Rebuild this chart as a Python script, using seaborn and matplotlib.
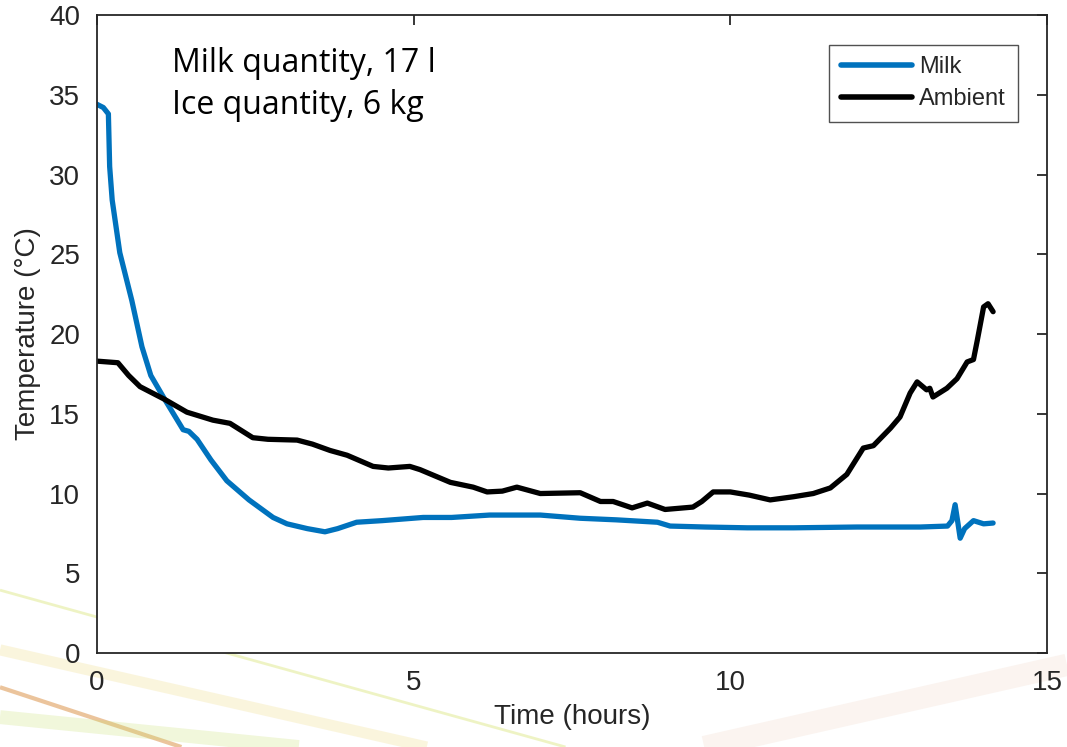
import numpy as np
import pandas as pd
import matplotlib
matplotlib.use("Agg")
import matplotlib.pyplot as plt
import seaborn as sns

# 数据
milk_t = [0.0, 0.1, 0.18, 0.2, 0.24, 0.36, 0.55, 0.71, 0.85, 1.07, 1.36, 1.45,
          1.58, 1.8, 2.05, 2.4, 2.78, 3.0, 3.32, 3.6, 3.8, 4.1, 4.5, 5.15, 5.6,
          6.2, 7.0, 7.63, 8.2, 8.85, 9.05, 9.6, 10.27, 11.0, 12.0, 13.0, 13.43,
          13.5, 13.55, 13.6, 13.63, 13.7, 13.84, 14.0, 14.15]
milk_temp = [34.4, 34.2, 33.8, 30.5, 28.4, 25.1, 22.1, 19.2, 17.4, 15.9, 14.0, 13.9,
             13.4, 12.1, 10.8, 9.6, 8.5, 8.1, 7.8, 7.6, 7.8, 8.2, 8.3, 8.5, 8.5,
             8.65, 8.65, 8.45, 8.35, 8.2, 7.96, 7.9, 7.85, 7.85, 7.9, 7.9, 7.96,
             8.3, 9.3, 8.0, 7.2, 7.8, 8.3, 8.1, 8.15]

amb_t = [0.0, 0.33, 0.5, 0.68, 1.07, 1.42, 1.83, 2.1, 2.46, 2.7, 3.16, 3.4, 3.68,
         3.95, 4.36, 4.6, 4.94, 5.1, 5.58, 5.94, 6.16, 6.4, 6.63, 7.0, 7.63, 7.95,
         8.15, 8.45, 8.69, 8.97, 9.41, 9.55, 9.73, 10.0, 10.3, 10.63, 11.0, 11.31,
         11.58, 11.84, 12.1, 12.26, 12.53, 12.68, 12.84, 12.95, 13.1, 13.15, 13.2,
         13.42, 13.58, 13.74, 13.84, 13.9, 14.0, 14.07, 14.15]
amb_temp = [18.3, 18.2, 17.4, 16.7, 15.9, 15.1, 14.6, 14.4, 13.5, 13.4, 13.35, 13.1,
            12.7, 12.4, 11.7, 11.6, 11.7, 11.5, 10.7, 10.4, 10.1, 10.15, 10.4, 10.0,
            10.05, 9.5, 9.5, 9.1, 9.4, 9.0, 9.15, 9.5, 10.1, 10.1, 9.9, 9.6, 9.8,
            10.0, 10.35, 11.2, 12.85, 13.0, 14.1, 14.8, 16.3, 17.0, 16.5, 16.6,
            16.05, 16.6, 17.2, 18.25, 18.4, 19.6, 21.7, 21.9, 21.4]

series_names = ["Milk", "Ambient"]
series_colors = ["#0072BD", "#000000"]

df = pd.concat([
    pd.DataFrame({"t": milk_t, "temp": milk_temp, "series": "Milk"}),
    pd.DataFrame({"t": amb_t, "temp": amb_temp, "series": "Ambient"}),
])

sns.set_style("white")
plt.rcParams["font.family"] = ["Liberation Sans", "DejaVu Sans"]

fig = plt.figure(figsize=(10.67, 7.47), dpi=100)

# 背景装饰 (幻灯片的彩色斜线)
bg = fig.add_axes([0, 0, 1, 1], zorder=-1)
bg.set_xlim(0, 1)
bg.set_ylim(0, 1)
bg.axis("off")
for x0, y0, x1, y1, c, lw, a in [
    (0.0, 0.21, 0.53, 0.0, "#dfe98a", 2, 0.5),
    (0.0, 0.13, 0.40, 0.0, "#f3e3a0", 8, 0.35),
    (0.0, 0.08, 0.17, 0.0, "#d98a3a", 3, 0.5),
    (0.0, 0.04, 0.28, 0.0, "#c8e070", 10, 0.25),
    (1.0, 0.11, 0.66, 0.0, "#f4e0d4", 16, 0.35),
]:
    bg.plot([x0, x1], [y0, y1], color=c, lw=lw, alpha=a, solid_capstyle="butt")

ax = fig.add_axes([0.0909, 0.1258, 0.8903, 0.8541])
ax.set_facecolor("white")

sns.lineplot(data=df, x="t", y="temp", hue="series", hue_order=series_names,
             palette=series_colors, linewidth=3.8, sort=False, estimator=None, ax=ax)

ax.set_xlim(0, 15)
ax.set_ylim(0, 40)
ax.set_xticks([0, 5, 10, 15])
ax.set_yticks(np.arange(0, 41, 5))
ax.tick_params(direction="in", length=7, width=1.3, labelsize=20,
               top=True, right=True, colors="#262626", pad=12)
for s in ax.spines.values():
    s.set_visible(True)
    s.set_color("#262626")
    s.set_linewidth(1.3)

ax.set_xlabel("Time (hours)", fontsize=20, color="#262626", labelpad=6)
ax.set_ylabel("Temperature (°C)", fontsize=20, color="#262626", labelpad=6)

ax.text(0.079, 0.95, "Milk quantity, 17 l\nIce quantity, 6 kg",
        transform=ax.transAxes, ha="left", va="top", fontsize=23,
        family=["Open Sans", "DejaVu Sans"], linespacing=1.38, color="black")

leg = ax.legend(loc="upper right", fontsize=17, frameon=True, fancybox=False,
                handlelength=3.0, borderpad=0.5, labelspacing=0.4,
                handletextpad=0.3, bbox_to_anchor=(0.9815, 0.972))
leg.get_frame().set_edgecolor("#262626")
leg.get_frame().set_linewidth(1.0)
for ln in leg.get_lines():
    ln.set_linewidth(4)

fig.savefig("out.png", dpi=100)
